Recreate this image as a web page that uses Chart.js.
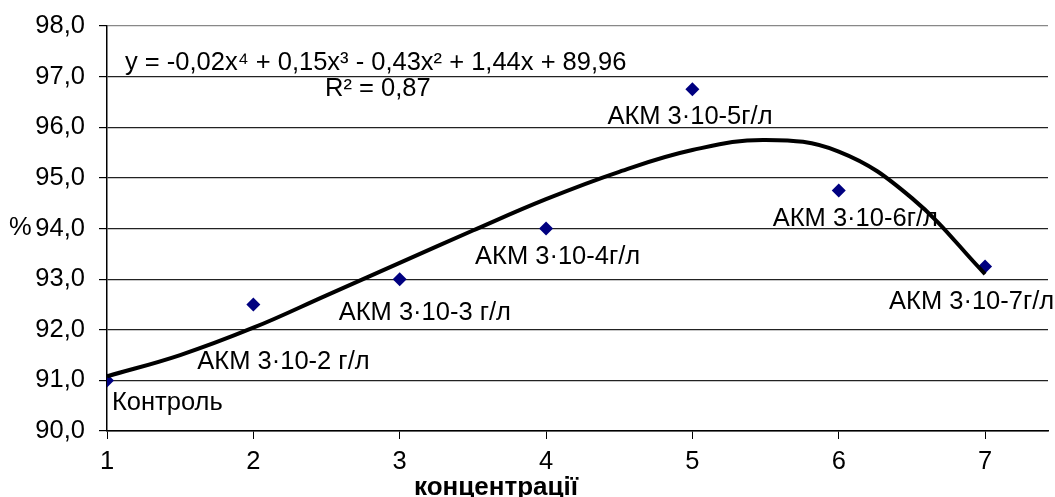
<!DOCTYPE html>
<html>
<head>
<meta charset="utf-8">
<script src="https://cdn.jsdelivr.net/npm/chart.js@4"></script>
<style>
  html, body { margin: 0; padding: 0; background: #fff; }
  #wrap { width: 1055px; height: 497px; position: relative; }
</style>
</head>
<body>
<div id="wrap"><canvas id="chart"></canvas></div>
<script>
// concentration index and measured values
const concentrations = [1, 2, 3, 4, 5, 6, 7];
const values = [91.0, 92.5, 93.0, 94.0, 96.75, 94.75, 93.25];
const pointLabels = ['Контроль', 'АКМ 3·10-2 г/л', 'АКМ 3·10-3 г/л', 'АКМ 3·10-4г/л',
                     'АКМ 3·10-5г/л', 'АКМ 3·10-6г/л', 'АКМ 3·10-7г/л'];

// polynomial trend line
const trendX = [1, 1.5, 2, 2.5, 3, 3.5, 4, 4.5, 5, 5.5, 6, 6.5, 7];
const trendY = [91.08, 91.5, 92.04, 92.68, 93.32, 93.96, 94.58, 95.12, 95.55, 95.75, 95.52, 94.6, 93.1];

const yTicks = [90, 91, 92, 93, 94, 95, 96, 97, 98];
const equation = 'y = -0,02x⁴ + 0,15x³ - 0,43x² + 1,44x + 89,96';
const rSquared = 'R² = 0,87';

const FONT = '"Liberation Sans", Arial, sans-serif';
const FS = 25.5;

// label offsets (px) from each marker: left edge, vertical centre
const labelOffsets = [[5, 23], [-56, 58], [-61, 34], [-71, 28], [-85, 28], [-66, 28], [-96, 35]];

const textPlugin = {
    id: 'texts',
    afterDatasetsDraw(chart) {
        const ctx = chart.ctx;
        const meta = chart.getDatasetMeta(1);
        ctx.save();
        ctx.fillStyle = '#000';
        ctx.font = FS + 'px ' + FONT;
        ctx.textBaseline = 'middle';
        ctx.textAlign = 'left';
        meta.data.forEach(function(pt, i) {
            ctx.fillText(pointLabels[i], pt.x + labelOffsets[i][0], pt.y + labelOffsets[i][1]);
        });
        ctx.fillText(equation, 125, 63);
        ctx.fillText(rSquared, 325, 89);
        ctx.fillText('%', 9, 228);
        ctx.font = 'bold 26px ' + FONT;
        ctx.textAlign = 'center';
        ctx.fillText('концентрації', 496, 488);
        ctx.restore();
    }
};

new Chart(document.getElementById('chart').getContext('2d'), {
    type: 'scatter',
    data: {
        datasets: [
            {
                type: 'line',
                label: 'trend',
                data: trendX.map((x, i) => ({ x: x, y: trendY[i] })),
                borderColor: '#000',
                borderWidth: 4,
                pointRadius: 0,
                fill: false,
                tension: 0.4
            },
            {
                label: 'values',
                data: concentrations.map((x, i) => ({ x: x, y: values[i] })),
                backgroundColor: '#000080',
                borderColor: '#000080',
                pointStyle: 'rectRot',
                pointRadius: 7,
                borderWidth: 0
            }
        ]
    },
    options: {
        responsive: true,
        maintainAspectRatio: false,
        animation: false,
        layout: { padding: { top: 26, right: 0, left: 0, bottom: 0 } },
        plugins: {
            legend: { display: false },
            tooltip: { enabled: false }
        },
        scales: {
            x: {
                type: 'linear',
                min: 1,
                max: 7.43,
                afterBuildTicks: function(scale) {
                    scale.ticks = concentrations.map(v => ({ value: v }));
                },
                afterFit: function(scale) {
                    scale.height = 66;
                    scale.paddingLeft = 0;
                    scale.paddingRight = 0;
                },
                grid: { drawOnChartArea: false, drawTicks: true, tickLength: 8, color: '#000' },
                border: { color: '#000', width: 1.5 },
                ticks: { color: '#000', font: { size: FS, family: FONT }, padding: 8 }
            },
            y: {
                min: 90,
                max: 98,
                afterBuildTicks: function(scale) {
                    scale.ticks = yTicks.map(v => ({ value: v }));
                },
                afterFit: function(scale) {
                    scale.width = 107;
                    scale.paddingTop = 0;
                    scale.paddingBottom = 0;
                },
                grid: {
                    color: function(c) { return c.tick && c.tick.value === 98 ? '#888' : '#222'; },
                    lineWidth: 1.2,
                    tickLength: 8,
                    tickColor: '#000'
                },
                border: { color: '#000', width: 1.5 },
                ticks: {
                    color: '#000',
                    font: { size: FS, family: FONT },
                    padding: 14,
                    callback: function(v) { return v.toFixed(1).replace('.', ','); }
                }
            }
        }
    },
    plugins: [textPlugin]
});
</script>
</body>
</html>
